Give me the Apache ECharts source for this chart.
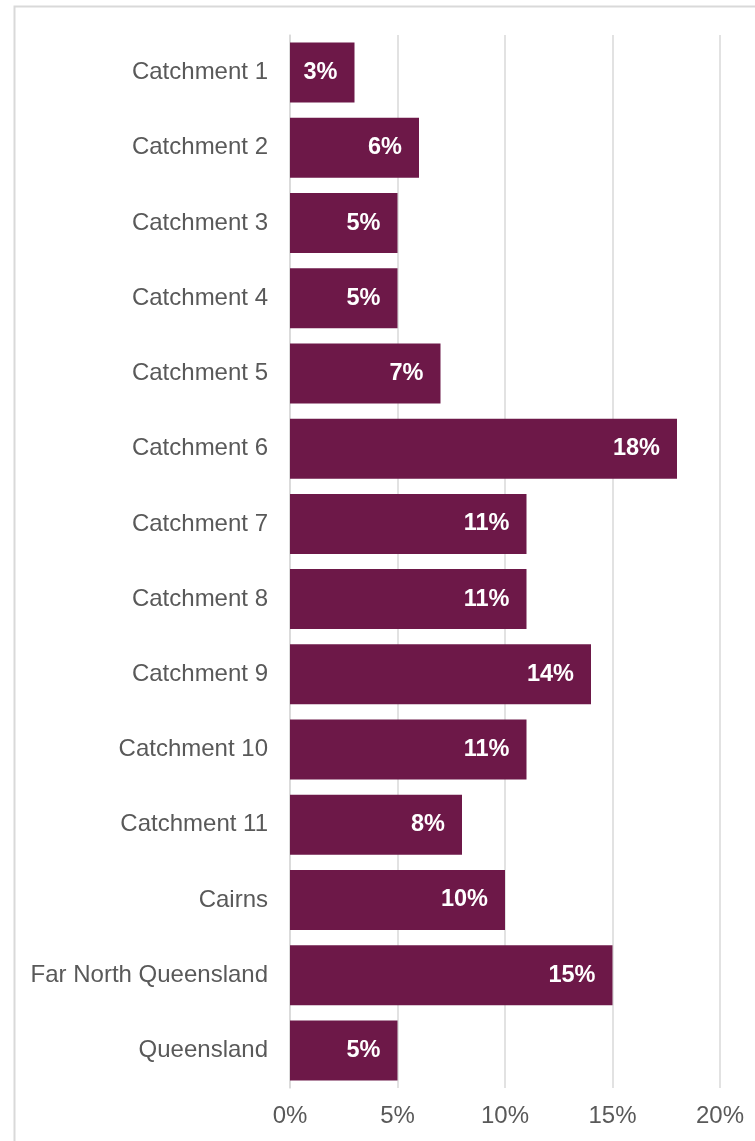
<!DOCTYPE html>
<html>
<head>
<meta charset="utf-8">
<script src="https://cdn.jsdelivr.net/npm/echarts@6/dist/echarts.min.js"></script>
<style>
  html, body { margin: 0; padding: 0; background: #ffffff; }
  #chart { width: 755px; height: 1141px; }
</style>
</head>
<body>
<div id="chart"></div>
<script>
// Share of population by area (%)
const categories = [
  'Catchment 1', 'Catchment 2', 'Catchment 3', 'Catchment 4', 'Catchment 5',
  'Catchment 6', 'Catchment 7', 'Catchment 8', 'Catchment 9', 'Catchment 10',
  'Catchment 11', 'Cairns', 'Far North Queensland', 'Queensland'
];
const values = [3, 6, 5, 5, 7, 18, 11, 11, 14, 11, 8, 10, 15, 5];
const xTicks = [0, 5, 10, 15, 20];

const chart = echarts.init(document.getElementById('chart'), null, { renderer: 'canvas' });

const font = '"Liberation Sans", Arial, sans-serif';

chart.setOption({
  animation: false,
  backgroundColor: '#ffffff',
  graphic: [{
    type: 'rect',
    left: 12,
    top: 4,
    shape: { width: 800, height: 1200 },
    style: { fill: 'none', stroke: '#d9d9d9', lineWidth: 2 },
    silent: true
  }],
  grid: { left: 290, right: 35, top: 35, bottom: 53, containLabel: false },
  xAxis: {
    type: 'value',
    min: xTicks[0],
    max: xTicks[xTicks.length - 1],
    interval: xTicks[1] - xTicks[0],
    axisLine: { show: false },
    axisTick: { show: false },
    splitLine: { show: true, lineStyle: { color: '#d9d9d9', width: 1.5 } },
    axisLabel: {
      formatter: v => v + '%',
      color: '#595959',
      fontSize: 24,
      fontFamily: font,
      margin: 16
    }
  },
  yAxis: {
    type: 'category',
    data: categories,
    inverse: true,
    axisLine: { show: true, lineStyle: { color: '#d9d9d9', width: 1.5 } },
    axisTick: { show: false },
    axisLabel: {
      color: '#595959',
      fontSize: 24,
      fontFamily: font,
      margin: 22
    }
  },
  series: [{
    type: 'bar',
    data: values,
    barWidth: 60,
    itemStyle: { color: '#6d1848' },
    label: {
      show: true,
      position: 'insideRight',
      distance: 17,
      formatter: p => p.value + '%',
      color: '#ffffff',
      fontWeight: 'bold',
      fontSize: 23.5,
      fontFamily: font
    }
  }]
});
</script>
</body>
</html>
